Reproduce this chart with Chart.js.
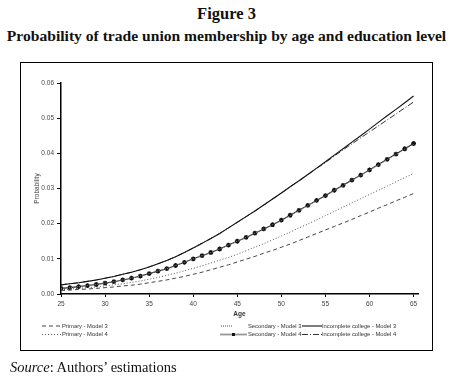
<!DOCTYPE html>
<html><head><meta charset="utf-8">
<script src="https://cdn.jsdelivr.net/npm/chart.js@4/dist/chart.umd.min.js"></script>
<style>
html,body{margin:0;padding:0;background:#fff;width:453px;height:379px;overflow:hidden;}
#wrap{position:relative;width:453px;height:379px;}
.t{position:absolute;left:0;width:453px;text-align:center;font-family:"Liberation Serif","DejaVu Serif",serif;font-weight:bold;color:#111;white-space:nowrap;}
#frame{position:absolute;left:20px;top:62px;width:411px;height:287px;border:1.5px solid #000;}
#src{position:absolute;left:10px;top:359px;font-family:"Liberation Serif",serif;font-size:14.5px;color:#111;white-space:nowrap;}
canvas{position:absolute;left:0;top:0;}
</style></head>
<body><div id="wrap">
<div class="t" style="top:4px;font-size:16.5px">Figure 3</div>
<div class="t" style="top:27px;font-size:15.6px">Probability of trade union membership by age and education level</div>
<div id="frame"></div>
<canvas id="c" width="453" height="379"></canvas>
<div id="src"><i>Source</i>: Authors’ estimations</div>
</div>
<script>
const ages = [25,26,27,28,29,30,31,32,33,34,35,36,37,38,39,40,41,42,43,44,45,46,47,48,49,50,51,52,53,54,55,56,57,58,59,60,61,62,63,64,65];
const xTickLabels = [25,30,35,40,45,50,55,60,65];
const yTickLabels = [0,0.01,0.02,0.03,0.04,0.05,0.06];
const seriesNames = ["Primary - Model 3","Primary - Model 4","Secondary - Model 3","Secondary - Model 4","Incomplete college - Model 3","Incomplete college - Model 4"];

const primaryM3 = [0.0010,0.0011,0.0013,0.0014,0.0016,0.0018,0.0020,0.0023,0.0025,0.0028,0.0032,0.0036,0.0040,0.0045,0.0050,0.0056,0.0062,0.0069,0.0076,0.0083,0.0091,0.0099,0.0107,0.0116,0.0124,0.0133,0.0142,0.0152,0.0162,0.0172,0.0182,0.0192,0.0202,0.0212,0.0223,0.0233,0.0244,0.0254,0.0265,0.0275,0.0286];
const primaryM4 = [0.0012,0.0014,0.0016,0.0018,0.0020,0.0023,0.0026,0.0029,0.0033,0.0037,0.0042,0.0047,0.0053,0.0059,0.0066,0.0073,0.0080,0.0088,0.0096,0.0104,0.0113,0.0123,0.0133,0.0143,0.0154,0.0165,0.0176,0.0188,0.0199,0.0211,0.0223,0.0235,0.0247,0.0259,0.0271,0.0283,0.0295,0.0307,0.0319,0.0331,0.0343];
const secondaryM3 = [0.0016,0.0018,0.0021,0.0024,0.0027,0.0031,0.0035,0.0040,0.0045,0.0051,0.0058,0.0065,0.0072,0.0081,0.0090,0.0100,0.0109,0.0118,0.0128,0.0139,0.0150,0.0161,0.0173,0.0185,0.0197,0.0209,0.0223,0.0237,0.0251,0.0265,0.0279,0.0294,0.0308,0.0323,0.0337,0.0352,0.0367,0.0382,0.0397,0.0412,0.0426];
const secondaryM4 = [0.0016,0.0018,0.0021,0.0024,0.0027,0.0031,0.0035,0.0040,0.0045,0.0051,0.0058,0.0065,0.0072,0.0081,0.0090,0.0100,0.0109,0.0118,0.0128,0.0139,0.0150,0.0161,0.0173,0.0185,0.0197,0.0210,0.0224,0.0238,0.0252,0.0266,0.0280,0.0295,0.0309,0.0324,0.0338,0.0353,0.0368,0.0383,0.0398,0.0413,0.0428];
const collegeM3 = [0.0026,0.0029,0.0032,0.0036,0.0040,0.0045,0.0050,0.0056,0.0062,0.0069,0.0077,0.0086,0.0095,0.0106,0.0118,0.0131,0.0144,0.0158,0.0172,0.0188,0.0204,0.0220,0.0236,0.0253,0.0270,0.0287,0.0305,0.0322,0.0340,0.0358,0.0376,0.0395,0.0413,0.0432,0.0450,0.0469,0.0488,0.0507,0.0525,0.0544,0.0563];
const collegeM4 = [0.0026,0.0029,0.0032,0.0036,0.0040,0.0045,0.0050,0.0056,0.0062,0.0069,0.0077,0.0086,0.0095,0.0106,0.0118,0.0131,0.0144,0.0158,0.0172,0.0188,0.0204,0.0220,0.0236,0.0253,0.0270,0.0287,0.0305,0.0322,0.0339,0.0357,0.0374,0.0392,0.0410,0.0427,0.0444,0.0461,0.0478,0.0495,0.0512,0.0529,0.0546];

const pts = arr => ages.map((a,i)=>({x:a,y:arr[i]}));
const styles = [
  {data:primaryM3, color:'#444', width:1, dash:[4,3]},
  {data:primaryM4, color:'#555', width:1, dash:[1,2]},
  {data:secondaryM3, color:'#888', width:1, dash:[1,1]},
  {data:secondaryM4, color:'#222', width:1.1, dash:[], point:true},
  {data:collegeM3, color:'#111', width:1.1, dash:[]},
  {data:collegeM4, color:'#333', width:1, dash:[6,2,1,2]}
];
const datasets = styles.map((s,i)=>({
  label: seriesNames[i],
  data: pts(s.data),
  borderColor: s.color,
  backgroundColor: s.color,
  borderWidth: s.width,
  borderDash: s.dash,
  pointRadius: s.point ? 2.4 : 0,
  pointStyle: s.point ? 'star' : 'circle',
  pointBorderWidth: s.point ? 1.3 : 0,
  pointBorderColor: '#111',
  fill: false,
  tension: 0
}));

const smallFont = {family:'"Liberation Sans", Arial, sans-serif', size:6.5};

const legendPlugin = {
  id:'customLegend',
  afterDraw(chart){
    const ctx = chart.ctx;
    ctx.save();
    ctx.font = '5.8px "Liberation Sans", Arial, sans-serif';
    ctx.fillStyle = '#333';
    ctx.textBaseline = 'middle';
    const rows = [326, 334.5];
    const items = [
      {i:0, x0:42, x1:62, tx:62, row:0},
      {i:1, x0:42, x1:62, tx:62, row:1},
      {i:2, x0:221, x1:232, tx:248, row:0},
      {i:3, x0:220, x1:247, tx:248, row:1},
      {i:4, x0:302, x1:322, tx:322, row:0},
      {i:5, x0:302, x1:322, tx:322, row:1}
    ];
    items.forEach(it=>{
      const s = styles[it.i];
      const y = rows[it.row];
      ctx.beginPath();
      ctx.setLineDash(s.dash);
      ctx.strokeStyle = s.color;
      ctx.lineWidth = it.i===2 ? 1.5 : (it.i===3 ? 1.8 : s.width);
      if (it.i===3) ctx.strokeStyle = '#999';
      ctx.moveTo(it.x0, y); ctx.lineTo(it.x1, y);
      ctx.stroke();
      ctx.setLineDash([]);
      if (s.point){
        ctx.fillStyle = '#111';
        ctx.fillRect((it.x0+it.x1)/2-1.5, y-1.5, 3, 3);
        ctx.fillStyle = '#333';
      }
      ctx.fillText(seriesNames[it.i], it.tx, y);
    });
    ctx.restore();
  }
};

new Chart(document.getElementById('c'), {
  type:'line',
  data:{datasets},
  options:{
    responsive:false,
    animation:false,
    devicePixelRatio:1,
    layout:{padding:{left:21, top:83, right:35, bottom:59}},
    plugins:{legend:{display:false}, tooltip:{enabled:false}},
    scales:{
      x:{
        type:'linear', min:25, max:65.5,
        afterBuildTicks(scale){ scale.ticks = xTickLabels.map(v=>({value:v})); },
        afterFit(scale){ scale.height = 26; },
        grid:{display:true, drawOnChartArea:false, drawTicks:true, tickLength:3, color:'#000', lineWidth:1},
        border:{display:true, color:'#000', width:1.5},
        ticks:{font:smallFont, color:'#444', padding:3, maxRotation:0, callback:v=>String(v)},
        title:{display:true, text:'Age', font:{family:'"Liberation Sans", Arial, sans-serif', size:6.5, weight:'bold'}, color:'#333', padding:{top:0,bottom:2}}
      },
      y:{
        type:'linear', min:0, max:0.06,
        afterBuildTicks(scale){ scale.ticks = yTickLabels.map(v=>({value:v})); },
        afterFit(scale){ scale.width = 40; },
        grid:{display:true, drawOnChartArea:false, drawTicks:true, tickLength:4, color:'#000', lineWidth:1},
        border:{display:true, color:'#000', width:1.5},
        ticks:{font:smallFont, color:'#444', padding:3, callback:v=>Number(v).toFixed(2)},
        title:{display:true, text:'Probability', font:{family:'"Liberation Sans", Arial, sans-serif', size:6.5}, color:'#444', padding:{top:12,bottom:0}}
      }
    }
  },
  plugins:[legendPlugin]
});
</script>
</body></html>
